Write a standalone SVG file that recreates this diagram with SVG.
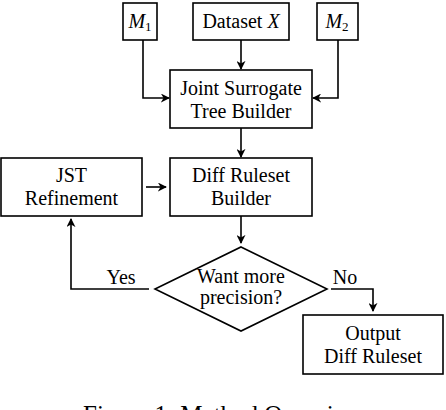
<svg xmlns="http://www.w3.org/2000/svg" width="446" height="410" viewBox="0 0 446 410">
<style>
.box{fill:#fff;stroke:#000;stroke-width:1.6}
.c{fill:none;stroke:#000;stroke-width:1.6;marker-end:url(#ah)}
</style>
<defs>
<marker id="ah" viewBox="0 0 10 10" refX="9" refY="5" markerWidth="9" markerHeight="9" markerUnits="userSpaceOnUse" orient="auto">
<path d="M0,0 L10,5 L0,10 L3,5 Z" fill="#000"/>
</marker>
</defs>
<rect width="446" height="410" fill="#fff"/>
<g font-family="Liberation Serif, serif" font-size="20" text-anchor="middle" fill="#000">
<g id="m1"><rect class="box" x="123" y="3" width="34" height="37"/><text x="140" y="28"><tspan font-style="italic">M</tspan><tspan font-size="13" dy="3">1</tspan></text></g>
<g id="dataset"><rect class="box" x="193" y="3" width="96" height="37"/><text x="241" y="28">Dataset <tspan font-style="italic">X</tspan></text></g>
<g id="m2"><rect class="box" x="317" y="3" width="41" height="37"/><text x="337" y="28"><tspan font-style="italic">M</tspan><tspan font-size="13" dy="3">2</tspan></text></g>
<g id="jstb"><rect class="box" x="170" y="70" width="142" height="58"/><text x="241" y="95">Joint Surrogate</text><text x="241" y="118">Tree Builder</text></g>
<g id="drb"><rect class="box" x="170" y="158" width="142" height="58"/><text x="241" y="182">Diff Ruleset</text><text x="241" y="205">Builder</text></g>
<g id="jstr"><rect class="box" x="1" y="158" width="141" height="58"/><text x="71.5" y="182">JST</text><text x="71.5" y="205">Refinement</text></g>
<g id="decision"><polygon class="box" points="241,247 327,289 241,331 155,289"/><text x="241" y="283">Want more</text><text x="241" y="304">precision?</text></g>
<g id="output"><rect class="box" x="303" y="315" width="140" height="59"/><text x="373" y="340">Output</text><text x="373" y="363">Diff Ruleset</text></g>
<g id="connectors">
<path class="c" d="M241,40 V69"/>
<path class="c" d="M143,40 V98 H169"/>
<path class="c" d="M338,40 V98 H313"/>
<path class="c" d="M241,128 V157"/>
<path class="c" d="M146,187 H166"/>
<path class="c" d="M241,216 V243"/>
<path class="c" d="M149,289 H71 V219"/>
<path class="c" d="M331,289 H373 V311"/>
<text x="121" y="284">Yes</text>
<text x="345" y="284">No</text>
</g>
<text x="223" y="423" font-size="25">Figure 1: Method Overview</text>
</g>
</svg>
